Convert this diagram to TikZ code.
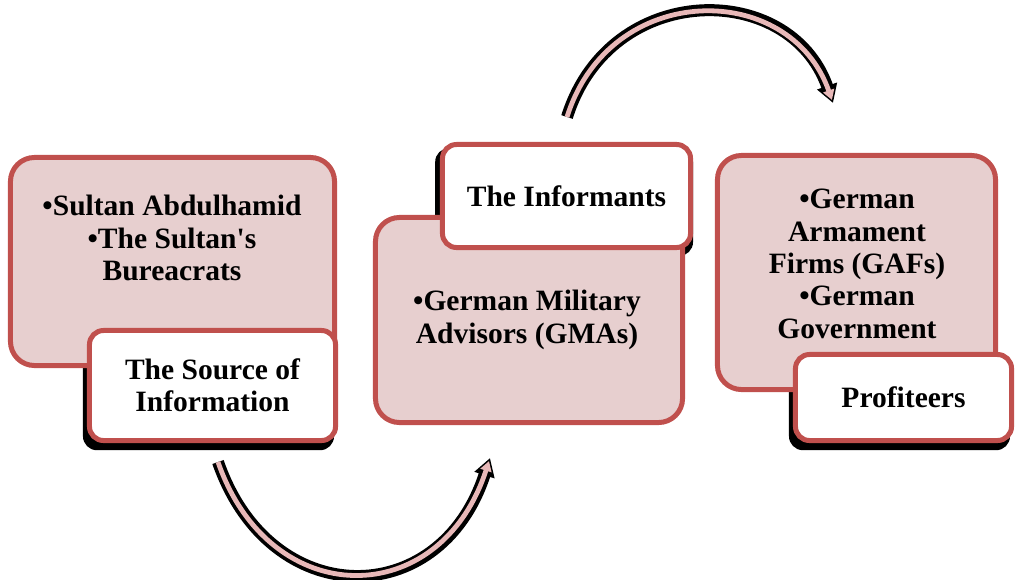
\documentclass[tikz,border=0pt]{standalone}
\usepackage{fontspec}
\setmainfont{Liberation Serif}
\usetikzlibrary{arrows.meta,backgrounds}

\definecolor{boxred}{HTML}{C0504D}
\definecolor{boxpink}{HTML}{E7CFCF}
\definecolor{arrowpink}{HTML}{E8B8B8}

\begin{document}
\begin{tikzpicture}[x=0.025cm,y=-0.025cm]

\tikzset{bigbox/.style = {shape=rectangle,rounded corners=0.6cm,draw=boxred,fill=boxpink,line width=0.125cm}}
\tikzset{tagbox/.style = {shape=rectangle,rounded corners=0.35cm,draw=boxred,fill=white,line width=0.125cm,align=center,font=\bfseries\fontsize{21}{23}\selectfont}}
\tikzset{boxtext/.style = {align=center,font=\bfseries\fontsize{21}{23}\selectfont}}
\tikzset{shade/.style = {fill=black,rounded corners=0.35cm}}
\tikzset{arrowback/.style = {-{Triangle[length=0.45cm,width=0.5cm]},black,line width=0.3cm}}
\tikzset{arrowfront/.style = {-{Triangle[length=0.25cm,width=0.28cm]},arrowpink,line width=0.12cm,shorten >=0.08cm}}
\useasboundingbox (0,0) rectangle (1016,579);
% vertices
\node[bigbox,minimum width=8.1cm,minimum height=5.2cm] (srcinfo) at (172.5,261.5) {};
\node[bigbox,minimum width=7.675cm,minimum height=5.125cm] (inf) at (529,320) {};
\node[bigbox,minimum width=6.95cm,minimum height=5.85cm] (prof) at (856.5,272.5) {};
\node[boxtext] (srcinfoText) at (172,238) {•Sultan Abdulhamid\\•The Sultan\textquotesingle s\\Bureacrats};
\node[boxtext] (infText) at (527,320) {•German Military\\Advisors (GMAs)};
\node[boxtext] (profText) at (857,264) {•German\\Armament\\Firms (GAFs)\\•German\\Government};
\node[tagbox,minimum width=6.15cm,minimum height=2.75cm] (src) at (212.5,385.5) {The Source of\\Information};
\node[tagbox,minimum width=6.2cm,minimum height=2.575cm] (informants) at (566.5,196) {The Informants};
\node[tagbox,minimum width=5.4cm,minimum height=2.15cm] (profiteers) at (903.5,397.5) {Profiteers};
\begin{scope}[on background layer]
\fill[shade] ([xshift=-0.1cm,yshift=-0.18cm]src.south west) rectangle ([xshift=-0.1cm,yshift=-0.18cm]src.north east);
\fill[shade] ([xshift=-0.12cm,yshift=-0.15cm]informants.south west) rectangle ([xshift=0cm,yshift=-0.15cm]informants.north east);
\fill[shade] ([xshift=-0.1cm,yshift=-0.18cm]profiteers.south west) rectangle ([xshift=-0.1cm,yshift=-0.18cm]profiteers.north east);
\end{scope}
\coordinate (srcOut) at (218,462);
\coordinate (infIn) at (490,458);
\coordinate (infOut) at (567,117);
\coordinate (profIn) at (833,103);
%edges
\draw[arrowback] (srcOut) .. controls (270,612) and (440,612) .. (infIn);
\draw[arrowfront] (srcOut) .. controls (270,612) and (440,612) .. (infIn);
\draw[arrowback] (infOut) .. controls (610,-20) and (790,-20) .. (profIn);
\draw[arrowfront] (infOut) .. controls (610,-20) and (790,-20) .. (profIn);
\end{tikzpicture}
\end{document}
